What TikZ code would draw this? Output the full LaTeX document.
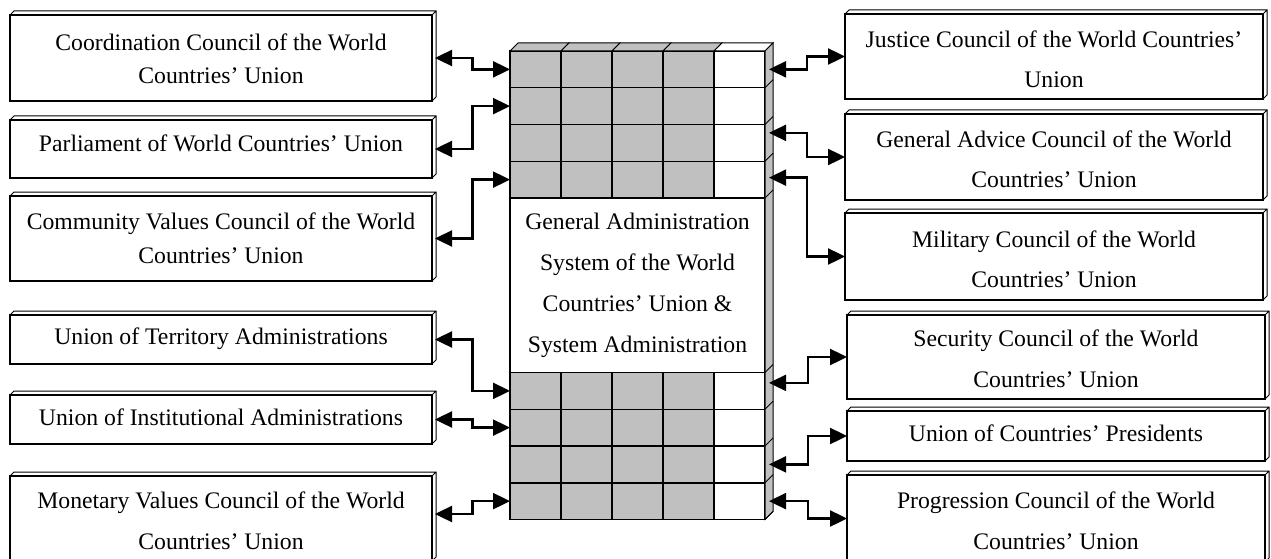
\documentclass[tikz,border=0pt]{standalone}
\usepackage{fontspec}
\setmainfont{Liberation Serif}
\usepackage{tikz}
\usetikzlibrary{calc,arrows.meta}

\definecolor{cellgray}{RGB}{192,192,192}
\tikzset{
  unitbox/.style={draw, line width=1.6pt, fill=white, inner sep=0pt, outer sep=0pt, minimum width=422pt},
  unittext/.style={align=center, inner sep=0pt},
  face/.style={draw, line width=1pt},
  cell/.style={draw, line width=1.5pt, inner sep=0pt, outer sep=0pt, minimum width=51pt, minimum height=36.75pt},
  link/.style={<->, >={Triangle[length=17pt,width=16pt]}, line width=2.4pt},
  zz/.style={to path={-| ($(\tikztostart)!.5!(\tikztotarget)$) |- (\tikztotarget)}}
}

\begin{document}
\begin{tikzpicture}[x=1pt, y=-1pt]
  \useasboundingbox (0,0) rectangle (1271,559);
  \def \cw {51}
  \def \rh {36.75}
  % the block of cells
  \foreach \r in {1,...,8}
  {
    \pgfmathsetmacro \y {\r<5 ? 51+\rh*(\r-0.5) : 372.5+\rh*(\r-4.5)}
    \foreach \c/\col in {1/cellgray,2/cellgray,3/cellgray,4/cellgray,5/white}
      \node[cell, fill=\col] (c\r-\c) at ({510+\cw*(\c-0.5)}, \y) {};
  }
  \node[cell, fill=white, minimum width=255pt, minimum height=174.5pt, align=center,
    font=\fontsize{23.7}{41}\selectfont] (sys) at (637.5, 285.25)
    {General Administration\\System of the World\\Countries’ Union \&\\System Administration};
  \foreach \c/\col in {1/cellgray,2/cellgray,3/cellgray,4/cellgray,5/white}
    \draw[face, fill=\col] (c1-\c.north west) -- ++(8,-8) -- ([shift={(8,-8)}]c1-\c.north east)
      -- (c1-\c.north east) -- cycle;
  \draw[face, fill=cellgray] (c1-5.north east) -- ++(8,-8) -- ([shift={(8,-8)}]c8-5.south east)
    -- (c8-5.south east) -- cycle;
  \foreach \r in {1,...,8}
    \draw[face] (c\r-5.south east) -- ++(8,-8);
  \draw[face] (c5-5.north east) -- ++(8,-8);

  % left and right units
  \foreach \n/\x/\y/\w/\h/\s/\dy/\t in {
      b1/221/58/422/86/33/-1/{Coordination Council of the World\\Countries’ Union},
      b2/221/149/422/58/33/5.5/{Parliament of World Countries’ Union},
      b3/221/238.5/422/85/34/0/{Community Values Council of the World\\Countries’ Union},
      b4/221/339.5/422/49/33/1/{Union of Territory Administrations},
      b5/221/419.5/422/49/33/2/{Union of Institutional Administrations},
      b6/221/518.5/422/85/41/-2.5/{Monetary Values Council of the World\\Countries’ Union},
      r1/1054/56.5/418/85/40/-3/{Justice Council of the World Countries’\\Union},
      r2/1054/157/418/86/40/-2.5/{General Advice Council of the World\\Countries’ Union},
      r3/1054/256.5/418/87/40/-3/{Military Council of the World\\Countries’ Union},
      r4/1056/357/418/84/41/-1.5/{Security Council of the World\\Countries’ Union},
      r5/1056/436/418/50/33/2.5/{Union of Countries’ Presidents},
      r6/1056/518.5/418/87/41/-2.5/{Progression Council of the World\\Countries’ Union}}
  {
    \node[unitbox, minimum width=\w pt, minimum height=\h pt] (\n) at (\x,\y) {};
    \draw[face] (\n.north west) -- ++(4,-4) -| ([shift={(4,-4)}]\n.south east) -- (\n.south east)
      (\n.north east) -- ++(4,-4);
    \node[unittext, font=\fontsize{23.7}{\s}\selectfont] (\n-t) at ([yshift=\dy pt]\n.center) {\t};
  }

  % links
  \foreach \n/\r/\dy in {b1/1/0, b2/2/0, b3/4/0, b4/5/0, b5/6/0, b6/8/4.5}
    \draw[link] ([xshift=3pt, yshift=\dy pt]\n.east) to[zz] (c\r-1.west);
  \foreach \n/\r/\dy in {r1/1/0, r2/3/10, r3/4/2, r4/5/8, r5/7/0, r6/8/0}
    \draw[link] ([xshift=4pt, yshift=\dy pt]c\r-5.east) to[zz] (\n.west);
\end{tikzpicture}
\end{document}
